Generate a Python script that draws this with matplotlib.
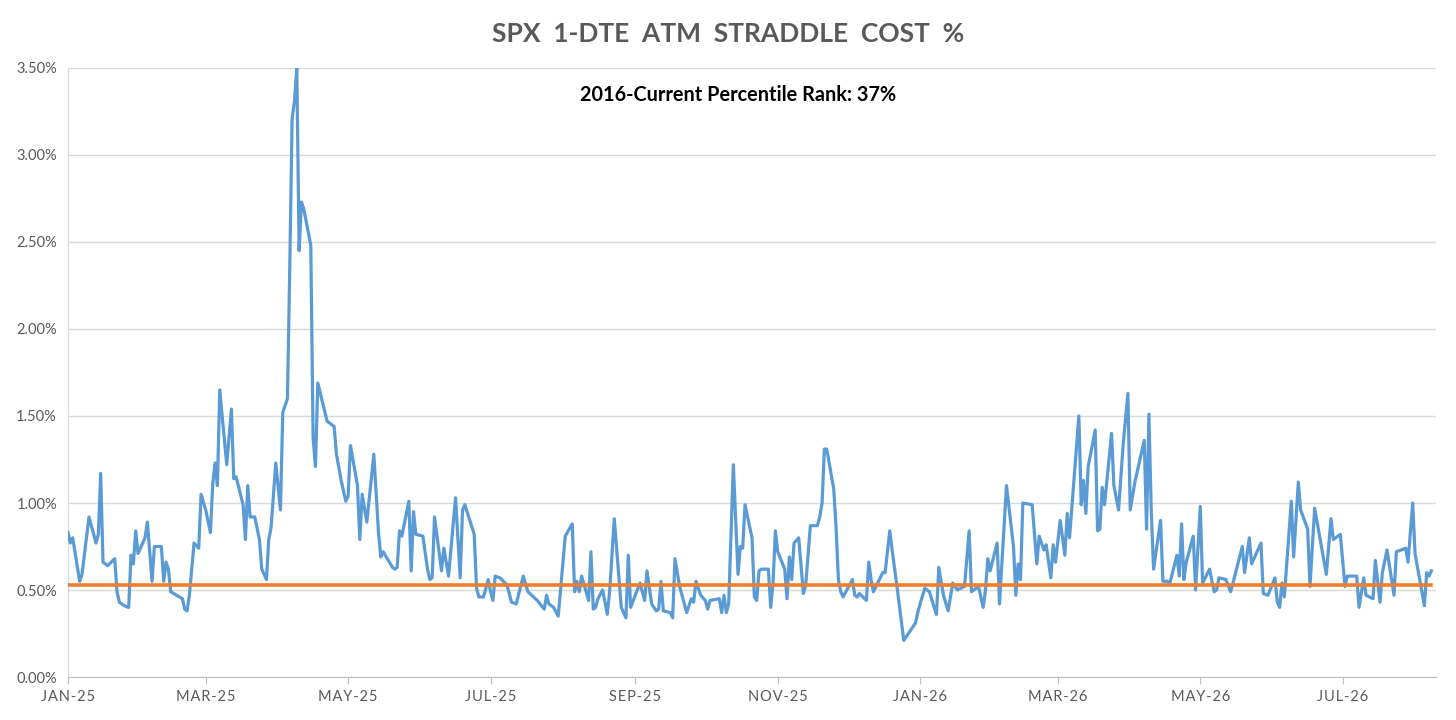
import numpy as np
import pandas as pd
import matplotlib
matplotlib.use("Agg")
import matplotlib.pyplot as plt
import matplotlib.dates as mdates
from matplotlib.ticker import FuncFormatter

# dados (dias desde o inicio, custo em %)
inicio = "2025-01-01"

dias = [0, 1, 2, 5, 6, 9, 12, 13, 14, 15, 17, 20, 21, 22, 24, 26, 27, 28, 29, 30,
        33, 34, 36, 37, 40, 41, 42, 43, 44, 49, 50, 51, 52, 54, 56, 57, 59, 61, 62, 63,
        64, 65, 68, 70, 71, 72, 75, 76, 77, 78, 80, 82, 83, 85, 86, 87, 89, 91, 92, 94,
        95, 96, 97, 98, 99, 100, 101, 104, 105, 106, 107, 111, 113, 114, 115, 117, 119, 120, 121, 124,
        125, 126, 128, 131, 133, 134, 135, 139, 140, 141, 142, 143, 146, 147, 148, 149, 152, 154, 155, 156,
        157, 160, 161, 163, 166, 168, 169, 170, 174, 175, 176, 178, 180, 181, 182, 183, 185, 188, 190, 192,
        195, 197, 201, 204, 205, 206, 208, 210, 213, 216, 217, 218, 219, 220, 223, 224, 225, 226, 227, 229,
        231, 232, 234, 237, 239, 240, 241, 245, 247, 248, 250, 252, 253, 254, 255, 258, 259, 260, 262, 265,
        267, 268, 269, 271, 273, 274, 275, 279, 280, 281, 282, 283, 285, 287, 288, 289, 290, 293, 294, 295,
        296, 297, 300, 301, 302, 303, 304, 307, 308, 309, 310, 311, 313, 315, 316, 318, 321, 322, 323, 324,
        325, 328, 329, 330, 331, 332, 336, 337, 338, 339, 342, 343, 344, 345, 349, 350, 352, 353, 355, 358,
        363, 364, 365, 367, 369, 371, 372, 373, 375, 377, 379, 381, 384, 386, 387, 390, 392, 393, 394, 395,
        398, 399, 402, 405, 406, 407, 408, 409, 413, 415, 416, 418, 419, 421, 422, 423, 425, 427, 428, 429,
        433, 434, 435, 436, 437, 440, 441, 442, 443, 444, 447, 448, 450, 452, 454, 455, 457, 461, 462, 463,
        464, 465, 468, 469, 471, 472, 475, 476, 477, 478, 479, 482, 483, 485, 486, 489, 490, 491, 492, 493,
        496, 498, 499, 503, 504, 506, 507, 511, 512, 514, 517, 518, 519, 520, 521, 524, 525, 527, 528, 531,
        532, 534, 539, 541, 542, 545, 547, 548, 552, 553, 555, 556, 559, 560, 562, 563, 565, 568, 569, 573,
        574, 576, 577, 581, 582, 583, 584]

custo = [0.83, 0.77, 0.80, 0.55, 0.59, 0.92, 0.77, 0.82, 1.17, 0.66, 0.64, 0.68, 0.49, 0.43, 0.41, 0.40, 0.70, 0.65, 0.84, 0.71,
         0.80, 0.89, 0.55, 0.75, 0.75, 0.55, 0.66, 0.62, 0.49, 0.45, 0.39, 0.38, 0.47, 0.77, 0.74, 1.05, 0.96, 0.83, 1.11, 1.23,
         1.10, 1.65, 1.22, 1.54, 1.14, 1.15, 0.99, 0.79, 1.10, 0.92, 0.92, 0.79, 0.62, 0.56, 0.79, 0.86, 1.23, 0.96, 1.52, 1.60,
         2.36, 3.21, 3.31, 3.50, 2.45, 2.73, 2.69, 2.48, 1.37, 1.21, 1.69, 1.47, 1.45, 1.44, 1.28, 1.13, 1.01, 1.04, 1.33, 1.10,
         0.79, 1.05, 0.89, 1.28, 0.83, 0.69, 0.72, 0.63, 0.62, 0.63, 0.84, 0.81, 1.01, 0.61, 0.95, 0.82, 0.81, 0.62, 0.56, 0.57,
         0.92, 0.61, 0.74, 0.58, 1.03, 0.57, 0.96, 0.99, 0.82, 0.51, 0.46, 0.46, 0.56, 0.49, 0.44, 0.58, 0.57, 0.53, 0.43, 0.42,
         0.58, 0.49, 0.44, 0.39, 0.47, 0.42, 0.40, 0.35, 0.81, 0.88, 0.49, 0.55, 0.49, 0.58, 0.44, 0.72, 0.39, 0.40, 0.45, 0.50,
         0.36, 0.49, 0.91, 0.40, 0.34, 0.70, 0.40, 0.54, 0.44, 0.61, 0.42, 0.38, 0.39, 0.55, 0.38, 0.37, 0.34, 0.68, 0.52, 0.37,
         0.45, 0.43, 0.55, 0.47, 0.44, 0.39, 0.44, 0.45, 0.37, 0.47, 0.37, 0.42, 1.22, 0.59, 0.75, 0.74, 0.99, 0.80, 0.46, 0.44,
         0.61, 0.62, 0.62, 0.40, 0.54, 0.84, 0.72, 0.62, 0.45, 0.69, 0.56, 0.77, 0.80, 0.48, 0.53, 0.87, 0.87, 0.92, 1.00, 1.31,
         1.31, 1.08, 0.86, 0.56, 0.49, 0.46, 0.56, 0.47, 0.46, 0.48, 0.44, 0.66, 0.56, 0.49, 0.60, 0.60, 0.84, 0.73, 0.53, 0.21,
         0.31, 0.37, 0.42, 0.51, 0.49, 0.40, 0.36, 0.63, 0.47, 0.38, 0.54, 0.50, 0.52, 0.84, 0.49, 0.52, 0.40, 0.50, 0.68, 0.61,
         0.77, 0.42, 1.10, 0.75, 0.47, 0.65, 0.56, 1.00, 0.99, 0.65, 0.81, 0.73, 0.76, 0.57, 0.76, 0.66, 0.90, 0.70, 0.94, 0.80,
         1.50, 0.99, 1.13, 0.94, 1.21, 1.42, 0.84, 0.85, 1.09, 0.99, 1.40, 1.10, 0.96, 1.34, 1.63, 0.96, 1.12, 1.36, 0.85, 1.51,
         0.96, 0.62, 0.90, 0.55, 0.55, 0.54, 0.70, 0.58, 0.88, 0.56, 0.66, 0.81, 0.50, 0.98, 0.54, 0.62, 0.55, 0.49, 0.50, 0.57,
         0.56, 0.49, 0.54, 0.75, 0.60, 0.80, 0.65, 0.77, 0.48, 0.47, 0.57, 0.43, 0.40, 0.54, 0.46, 1.01, 0.69, 1.12, 0.96, 0.85,
         0.52, 0.97, 0.59, 0.91, 0.79, 0.82, 0.52, 0.58, 0.58, 0.40, 0.57, 0.47, 0.45, 0.67, 0.43, 0.60, 0.73, 0.47, 0.72, 0.74,
         0.66, 1.00, 0.71, 0.41, 0.60, 0.58, 0.61]

linha_laranja = 0.53
titulo = "SPX  1-DTE  ATM  STRADDLE  COST  %"
nota = "2016-Current Percentile Rank: 37%"

datas = pd.to_datetime(inicio) + pd.to_timedelta(dias, unit="D")

cinza = "#595959"
plt.rcParams['font.family'] = ['Lato', 'DejaVu Sans']

fig = plt.figure(figsize=(14.56, 7.2), dpi=100)
ax = fig.add_axes([0.0467, 0.0597, 0.9396, 0.8459])

ax.plot(datas, custo, color="#5B9BD5", linewidth=2.3, solid_joinstyle="round", zorder=3)
ax.plot([datas[0], datas[-1]], [linha_laranja, linha_laranja], color="#ED7D31", linewidth=2.6, zorder=4)

ax.set_ylim(0, 3.5)
ax.set_yticks(np.arange(0, 3.51, 0.5))
ax.yaxis.set_major_formatter(FuncFormatter(lambda v, p: f"{v:.2f}%"))
ax.set_xlim(pd.Timestamp("2025-01-01"), pd.Timestamp("2025-01-01") + pd.Timedelta(days=586))

# rotulos do eixo x com letras espacadas
ticks_x = pd.date_range("2025-01-01", "2026-07-01", freq="2MS")
ax.set_xticks(ticks_x)
ax.set_xticklabels(["\u200a".join(d.strftime("%b-%y").upper()) for d in ticks_x])

ax.grid(axis="y", color="#d9d9d9", linewidth=1.0)
ax.set_axisbelow(True)
for lado in ["top", "right"]:
    ax.spines[lado].set_visible(False)
ax.spines["left"].set_color("#d9d9d9")
ax.spines["bottom"].set_color("#bfbfbf")

ax.tick_params(axis="y", length=0, labelsize=10.5, labelcolor=cinza, pad=8)
ax.tick_params(axis="x", length=5, color="#bfbfbf", labelsize=10.5, labelcolor=cinza, pad=4)

fig.text(0.5, 0.953, titulo, ha="center", va="center", fontsize=19, fontweight="bold", color=cinza)
ax.text(0.49, 0.955, nota, transform=ax.transAxes, ha="center", va="center",
        fontsize=14.3, fontweight="bold", color="black")

fig.savefig("out.png", dpi=100)
